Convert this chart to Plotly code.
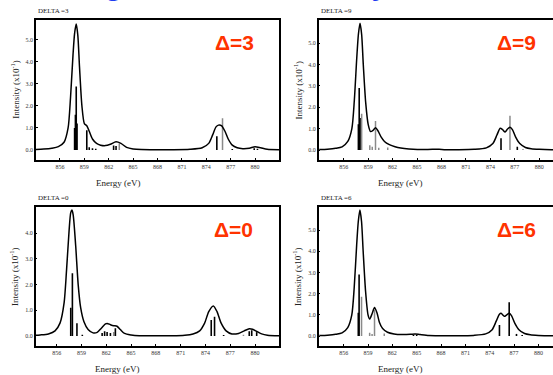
import plotly.graph_objects as go

# ---------------- spectra data ----------------
# Calculated Ni 2p XAS for four charge-transfer energies (DELTA).
# Broadened spectrum: energy (eV) and intensity (x10^-1)
d3_energy = [853, 854, 855, 855.8, 856.5, 857.0, 857.3, 857.6, 857.8, 858.0, 858.2, 858.4,
             858.7, 859.0, 859.3, 859.6, 860.0, 860.5, 861.0, 861.6, 862.2, 862.9, 863.5,
             864.2, 865, 866, 868, 870, 872, 873.5, 874.3, 874.8, 875.2, 875.5, 875.9,
             876.3, 876.7, 877.2, 877.8, 878.5, 879.3, 880.0, 880.7, 881.5, 883]
d3_intensity = [0.02, 0.04, 0.08, 0.15, 0.35, 1.0, 2.4, 4.3, 5.3, 5.72, 5.2, 3.8,
                2.0, 1.2, 1.1, 0.85, 0.5, 0.3, 0.22, 0.2, 0.26, 0.37, 0.3,
                0.12, 0.05, 0.02, 0.01, 0.01, 0.03, 0.1, 0.3, 0.7, 1.05, 1.13, 1.1,
                0.85, 0.5, 0.22, 0.1, 0.06, 0.08, 0.15, 0.1, 0.03, 0.01]

d9_energy = [853, 854, 855, 855.8, 856.5, 857.0, 857.3, 857.6, 857.8, 858.0, 858.2, 858.4,
             858.7, 859.0, 859.3, 859.6, 859.9, 860.2, 860.6, 861.0, 861.6, 862.3, 863,
             864, 866, 867.3, 867.7, 868.5, 870, 872, 873.5, 874.3, 874.8, 875.2, 875.5,
             875.8, 876.1, 876.4, 876.7, 877.1, 877.6, 878.3, 879, 880, 881.5, 883]
d9_intensity = [0.02, 0.04, 0.08, 0.15, 0.4, 1.0, 2.3, 4.3, 5.4, 5.92, 5.4, 4.0,
                2.2, 1.2, 0.86, 0.92, 1.04, 0.9, 0.6, 0.4, 0.25, 0.15, 0.09,
                0.05, 0.02, 0.04, 0.04, 0.01, 0.01, 0.03, 0.1, 0.3, 0.7, 1.02, 0.95,
                0.84, 0.98, 1.06, 0.95, 0.6, 0.3, 0.12, 0.06, 0.03, 0.01, 0.01]

d0_energy = [853, 854, 855, 855.8, 856.4, 856.9, 857.2, 857.5, 857.7, 857.85, 858.0, 858.3,
             858.6, 858.9, 859.3, 859.8, 860.4, 860.9, 861.4, 861.9, 862.1, 862.5, 862.9,
             863.3, 863.7, 864.2, 865, 866, 868, 870, 871.5, 872.5, 873.3, 873.9, 874.4,
             874.95, 875.4, 875.9, 876.5, 877.2, 878, 878.7, 879.3, 879.7, 880.2, 880.8,
             881.5, 883]
d0_intensity = [0.02, 0.04, 0.08, 0.2, 0.5, 1.3, 2.6, 4.1, 4.8, 4.9, 4.7, 3.5,
                2.0, 1.1, 0.55, 0.25, 0.12, 0.14, 0.3, 0.47, 0.49, 0.44, 0.4,
                0.38, 0.25, 0.1, 0.04, 0.01, 0.01, 0.01, 0.03, 0.08, 0.2, 0.5, 0.95,
                1.17, 0.95, 0.5, 0.2, 0.08, 0.1, 0.2, 0.28, 0.26, 0.18, 0.08,
                0.03, 0.01]

d6_energy = [853, 854, 855, 855.8, 856.5, 857.0, 857.3, 857.6, 857.8, 858.0, 858.2, 858.4,
             858.7, 859.0, 859.2, 859.5, 859.8, 860.1, 860.4, 860.8, 861.4, 862.2, 863.2,
             864.2, 864.8, 865.4, 866.5, 868, 870, 872, 873.5, 874.3, 874.8, 875.2, 875.4,
             875.8, 876.1, 876.4, 876.7, 877.1, 877.6, 878.3, 879, 880, 881.5, 883]
d6_intensity = [0.02, 0.04, 0.08, 0.15, 0.4, 1.0, 2.3, 4.3, 5.4, 5.94, 5.4, 4.0,
                2.1, 1.0, 0.8, 1.05, 1.34, 1.1, 0.65, 0.35, 0.18, 0.1, 0.07,
                0.08, 0.1, 0.07, 0.02, 0.01, 0.01, 0.03, 0.1, 0.3, 0.7, 1.03, 1.07,
                0.93, 1.0, 1.07, 0.95, 0.6, 0.3, 0.12, 0.06, 0.03, 0.01, 0.01]

# Multiplet lines (stick spectrum): energy and strength
d3_black_e = [857.8, 857.9, 858.0, 858.1, 859.3, 859.6, 860.0, 860.4, 862.6, 862.9, 875.3, 877.2, 879.9, 880.3]
d3_black_h = [1.0, 1.6, 2.88, 1.2, 0.9, 0.12, 0.08, 0.06, 0.2, 0.18, 0.62, 0.04, 0.08, 0.06]
d3_gray_e = [863.3, 876.0]
d3_gray_h = [0.3, 1.44]

d9_black_e = [857.8, 857.9, 858.0, 875.3, 877.3]
d9_black_h = [1.2, 2.9, 1.5, 0.55, 0.15]
d9_gray_e = [858.2, 859.2, 859.5, 859.9, 860.3, 861.4, 867.5, 876.4, 878.0]
d9_gray_h = [1.7, 0.22, 0.15, 1.36, 0.1, 0.12, 0.04, 1.6, 0.05]

d0_black_e = [857.7, 857.9, 858.45, 859.1, 861.5, 861.8, 862.1, 862.5, 863.1, 874.7, 875.1, 876.2, 879.3, 879.6, 880.2]
d0_black_h = [1.1, 2.44, 0.5, 0.05, 0.12, 0.18, 0.15, 0.12, 0.3, 0.62, 0.75, 0.04, 0.18, 0.22, 0.15]
d0_gray_e = [862.9, 878.6]
d0_gray_h = [0.15, 0.05]

d6_black_e = [857.8, 857.9, 864.6, 865.0, 875.2, 876.4, 877.3, 878.0]
d6_black_h = [1.1, 2.9, 0.05, 0.06, 0.52, 1.59, 0.1, 0.05]
d6_gray_e = [858.2, 859.2, 859.5, 859.8, 861.0]
d6_gray_h = [1.85, 0.15, 0.1, 1.23, 0.12]

x_ticks = [856, 859, 862, 865, 868, 871, 874, 877, 880]
y_ticks_main = [0, 1, 2, 3, 4, 5]
y_ticks_d0 = [0, 1, 2, 3, 4]

panels = [
    # name, energy, intensity, black sticks, gray sticks, y ticks, red label
    ("DELTA =3", d3_energy, d3_intensity, (d3_black_e, d3_black_h), (d3_gray_e, d3_gray_h), y_ticks_main, "Δ=3"),
    ("DELTA =9", d9_energy, d9_intensity, (d9_black_e, d9_black_h), (d9_gray_e, d9_gray_h), y_ticks_main, "Δ=9"),
    ("DELTA =0", d0_energy, d0_intensity, (d0_black_e, d0_black_h), (d0_gray_e, d0_gray_h), y_ticks_d0, "Δ=0"),
    ("DELTA =6", d6_energy, d6_intensity, (d6_black_e, d6_black_h), (d6_gray_e, d6_gray_h), y_ticks_main, "Δ=6"),
]

W, H = 553, 375

# layout geometry (pixels): left, right, top, bottom of each frame, axis ranges
geom = [
    dict(l=36, r=279, t=19.5, b=160, xr=[853.05, 882.95], yr=[-0.455, 5.93]),
    dict(l=318.7, r=553, t=19.5, b=160, xr=[852.93, 881.68], yr=[-0.467, 6.10]),
    dict(l=35.7, r=279, t=206.7, b=346, xr=[853.46, 882.9], yr=[-0.39, 5.03]),
    dict(l=318.7, r=553, t=206.7, b=346, xr=[852.92, 881.8], yr=[-0.47, 6.10]),
]


def sticks(e_list, h_list):
    xs, ys = [], []
    for e, h in zip(e_list, h_list):
        xs += [e, e, None]
        ys += [0, h, None]
    return xs, ys


fig = go.Figure()
serif = "Liberation Serif"
annotations = []

for i, (name, en, inten, blk, gry, yt, lab) in enumerate(panels):
    n = "" if i == 0 else str(i + 1)
    xa, ya = "x" + n, "y" + n
    g = geom[i]

    gx, gy = sticks(*gry)
    fig.add_trace(go.Scatter(x=gx, y=gy, mode="lines", xaxis=xa, yaxis=ya,
                             line=dict(color="#8a8a8a", width=1.5), showlegend=False))
    bx, by = sticks(*blk)
    fig.add_trace(go.Scatter(x=bx, y=by, mode="lines", xaxis=xa, yaxis=ya,
                             line=dict(color="#000000", width=1.6), showlegend=False))
    fig.add_trace(go.Scatter(x=en, y=inten, mode="lines", xaxis=xa, yaxis=ya,
                             line=dict(color="#000000", width=1.5, shape="spline", smoothing=0.7),
                             showlegend=False))

    right_open = g["r"] >= W
    fig.layout["xaxis" + n] = dict(
        domain=[g["l"] / W, g["r"] / W], range=g["xr"], anchor=ya,
        tickvals=x_ticks, ticktext=[str(v) for v in x_ticks],
        ticks="inside", ticklen=2, tickcolor="#000",
        showline=True, linecolor="#000", linewidth=1.5, mirror=True,
        showgrid=False, zeroline=False,
        tickfont=dict(family=serif, size=6, color="#333"),
    )
    fig.layout["yaxis" + n] = dict(
        domain=[(H - g["b"]) / H, (H - g["t"]) / H], range=g["yr"], anchor=xa,
        tickvals=yt, tickformat=".1f",
        ticks="inside", ticklen=2, tickcolor="#000",
        showline=True, linecolor="#000", linewidth=1.5, mirror=(not right_open),
        showgrid=False, zeroline=False,
        tickfont=dict(family=serif, size=6, color="#333"),
    )

    # DELTA caption above the frame
    annotations.append(dict(text=name, x=g["l"] / W, y=(H - g["t"] + 3) / H,
                            xref="paper", yref="paper", xanchor="left", yanchor="bottom",
                            showarrow=False, font=dict(family=serif, size=7, color="#222")))
    # axis titles
    annotations.append(dict(text="Energy (eV)", x=(g["l"] + 82) / W, y=(H - g["b"] - 23) / H,
                            xref="paper", yref="paper", xanchor="center", yanchor="middle",
                            showarrow=False, font=dict(family=serif, size=9, color="#222")))
    annotations.append(dict(text="Intensity (x10<sup>-1</sup>)", x=(g["l"] - 21) / W,
                            y=(H - (g["t"] + g["b"]) / 2) / H,
                            xref="paper", yref="paper", xanchor="center", yanchor="middle",
                            textangle=-90, showarrow=False,
                            font=dict(family=serif, size=9, color="#222")))
    # red DELTA label inside the frame
    annotations.append(dict(text="<b>" + lab + "</b>", x=(g["l"] + 198) / W,
                            y=(H - g["t"] - 23) / H,
                            xref="paper", yref="paper", xanchor="center", yanchor="middle",
                            showarrow=False, font=dict(family="Liberation Sans", size=21, color="#ff3300")))

# slide heading sitting above the charts; only its lowest strokes fall inside the page
annotations.append(dict(text="<b><i>Fitting with cluster theory</i></b>", x=34 / W, y=1 - 3 / H,
                        xref="paper", yref="paper", xanchor="left", yanchor="bottom",
                        showarrow=False, font=dict(family="Liberation Sans", size=29, color="#1f3cf0")))

fig.update_layout(
    width=W, height=H, margin=dict(l=0, r=0, t=0, b=0),
    paper_bgcolor="white", plot_bgcolor="white",
    annotations=annotations, showlegend=False,
)

fig.write_html("out.html")
